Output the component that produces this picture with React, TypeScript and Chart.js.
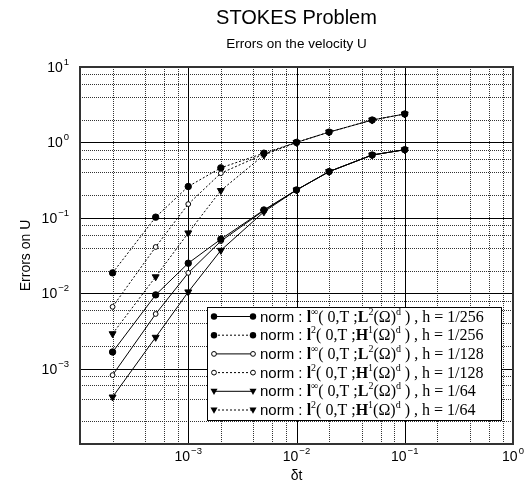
import React, { useEffect, useRef } from 'react';
import { Chart, registerables } from 'chart.js';

Chart.register(...registerables);

// ---- data ----
const dt = [2e-4, 5e-4, 1e-3, 2e-3, 5e-3, 1e-2, 2e-2, 5e-2, 1e-1];
const linfL2_h256 = [1.66e-3, 9.5e-3, 0.025, 0.052, 0.127, 0.234, 0.41, 0.68, 0.8];
const l2H1_h256 = [0.0186, 0.102, 0.26, 0.46, 0.72, 1.0, 1.37, 1.98, 2.38];
const linfL2_h128 = [8.2e-4, 5.3e-3, 0.0186, 0.049, 0.125, 0.234, 0.41, 0.68, 0.8];
const l2H1_h128 = [6.6e-3, 0.041, 0.152, 0.39, 0.7, 1.0, 1.37, 1.98, 2.38];
const linfL2_h64 = [4.2e-4, 2.6e-3, 0.0104, 0.037, 0.12, 0.234, 0.41, 0.68, 0.8];
const l2H1_h64 = [2.9e-3, 0.0165, 0.063, 0.23, 0.68, 1.0, 1.37, 1.98, 2.38];

const timeNorm = ['\u221E', '2', '\u221E', '2', '\u221E', '2'];
const spaceNorm = ['L', 'H', 'L', 'H', 'L', 'H'];
const spaceExp = ['2', '1', '2', '1', '2', '1'];
const meshSize = ['1/256', '1/256', '1/128', '1/128', '1/64', '1/64'];

const xDecades = [-4, -3, -2, -1, 0];
const yDecades = [-4, -3, -2, -1, 0, 1];
const xLabelExps = [-3, -2, -1, 0];
const yLabelExps = [-3, -2, -1, 0, 1];
const minorMultiples = [2, 4, 6, 8];

const titleText = 'STOKES Problem';
const subtitleText = 'Errors on the velocity U';
const xTitle = '\u03B4t';
const yTitle = 'Errors on U';

const seriesValues = [linfL2_h256, l2H1_h256, linfL2_h128, l2H1_h128, linfL2_h64, l2H1_h64];
const seriesDotted = [false, true, false, true, false, true];
const seriesMarker = ['filled', 'filled', 'open', 'open', 'tri', 'tri'];

const SANS = '"Liberation Sans", Arial, sans-serif';
const SERIF = '"Liberation Serif", "Times New Roman", serif';

function expText(e: number) {
  return e < 0 ? '\u2212' + Math.abs(e) : String(e);
}

function drawMarker(ctx: CanvasRenderingContext2D, kind: string, x: number, y: number) {
  ctx.save();
  ctx.setLineDash([]);
  ctx.lineWidth = 1;
  ctx.strokeStyle = '#000';
  if (kind === 'filled') {
    ctx.fillStyle = '#000';
    ctx.beginPath();
    ctx.arc(x, y, 3.2, 0, Math.PI * 2);
    ctx.fill();
  } else if (kind === 'open') {
    ctx.fillStyle = '#fff';
    ctx.beginPath();
    ctx.arc(x, y, 2.4, 0, Math.PI * 2);
    ctx.fill();
    ctx.stroke();
  } else {
    ctx.fillStyle = '#000';
    ctx.beginPath();
    ctx.moveTo(x - 3.5, y - 2.5);
    ctx.lineTo(x + 3.5, y - 2.5);
    ctx.lineTo(x, y + 3.8);
    ctx.closePath();
    ctx.fill();
  }
  ctx.restore();
}

const decorPlugin = {
  id: 'decor',
  beforeDatasetsDraw(chart: any) {
    const ctx: CanvasRenderingContext2D = chart.ctx;
    const { left, right, top, bottom } = chart.chartArea;
    const xs = chart.scales.x;
    const ys = chart.scales.y;
    ctx.save();
    ctx.lineWidth = 1;
    // minor dotted
    ctx.strokeStyle = '#333';
    ctx.setLineDash([1, 1]);
    for (const d of xDecades) {
      for (const m of minorMultiples) {
        const v = m * Math.pow(10, d);
        if (v >= 1) continue;
        const px = Math.round(xs.getPixelForValue(v)) + 0.5;
        ctx.beginPath();
        ctx.moveTo(px, top);
        ctx.lineTo(px, bottom);
        ctx.stroke();
      }
    }
    for (const d of yDecades) {
      for (const m of minorMultiples) {
        const v = m * Math.pow(10, d);
        if (v >= 10) continue;
        const py = Math.round(ys.getPixelForValue(v)) + 0.5;
        ctx.beginPath();
        ctx.moveTo(left, py);
        ctx.lineTo(right, py);
        ctx.stroke();
      }
    }
    // major solid
    ctx.setLineDash([]);
    ctx.strokeStyle = '#000';
    for (const d of xDecades) {
      const px = Math.round(xs.getPixelForValue(Math.pow(10, d))) + 0.5;
      ctx.beginPath();
      ctx.moveTo(px, top);
      ctx.lineTo(px, bottom);
      ctx.stroke();
    }
    for (const d of yDecades) {
      const py = Math.round(ys.getPixelForValue(Math.pow(10, d))) + 0.5;
      ctx.beginPath();
      ctx.moveTo(left, py);
      ctx.lineTo(right, py);
      ctx.stroke();
    }
    ctx.restore();
  },
  afterDatasetsDraw(chart: any) {
    const ctx: CanvasRenderingContext2D = chart.ctx;
    const { left, right, top, bottom } = chart.chartArea;
    ctx.save();
    ctx.setLineDash([]);
    ctx.lineWidth = 2;
    ctx.strokeStyle = '#333';
    ctx.strokeRect(left, top, right - left, bottom - top);
    ctx.restore();
  },
  afterDraw(chart: any) {
    const ctx: CanvasRenderingContext2D = chart.ctx;
    const { left, right, top, bottom } = chart.chartArea;
    const xs = chart.scales.x;
    const ys = chart.scales.y;
    const cx = (left + right) / 2;
    ctx.save();
    ctx.fillStyle = '#000';
    ctx.textBaseline = 'alphabetic';
    // titles
    ctx.textAlign = 'center';
    ctx.font = `20px ${SANS}`;
    ctx.fillText(titleText, cx, 24);
    ctx.font = `13.5px ${SANS}`;
    ctx.fillText(subtitleText, cx, 48);
    ctx.font = `14px ${SANS}`;
    ctx.fillText(xTitle, cx, 480);
    ctx.save();
    ctx.translate(30, (top + bottom) / 2);
    ctx.rotate(-Math.PI / 2);
    ctx.fillText(yTitle, 0, 0);
    ctx.restore();

    // tick labels with superscripts
    const baseFont = `14px ${SANS}`;
    const supFont = `9.5px ${SANS}`;
    ctx.textAlign = 'left';
    for (const e of xLabelExps) {
      const px = xs.getPixelForValue(Math.pow(10, e));
      ctx.font = baseFont;
      const wb = ctx.measureText('10').width;
      ctx.font = supFont;
      const we = ctx.measureText(expText(e)).width;
      const x0 = px - (wb + we + 1) / 2;
      ctx.font = baseFont;
      ctx.fillText('10', x0, 461);
      ctx.font = supFont;
      ctx.fillText(expText(e), x0 + wb + 1, 454);
    }
    for (const e of yLabelExps) {
      const py = ys.getPixelForValue(Math.pow(10, e));
      ctx.font = baseFont;
      const wb = ctx.measureText('10').width;
      ctx.font = supFont;
      const we = ctx.measureText(expText(e)).width;
      const xr = 69;
      const x0 = xr - we - 1 - wb;
      ctx.font = baseFont;
      ctx.fillText('10', x0, py + 5);
      ctx.font = supFont;
      ctx.fillText(expText(e), x0 + wb + 1, py - 2);
    }

    // legend box
    const bx = 207, by = 307, bw = 294, bh = 113;
    ctx.fillStyle = '#fff';
    ctx.fillRect(bx, by, bw, bh);
    ctx.strokeStyle = '#000';
    ctx.lineWidth = 1;
    ctx.strokeRect(bx + 0.5, by + 0.5, bw, bh);
    const rowH = 18.7;
    for (let i = 0; i < seriesValues.length; i++) {
      const ry = by + 9.5 + i * rowH;
      const ds = chart.data.datasets[i];
      ctx.save();
      ctx.strokeStyle = '#000';
      ctx.lineWidth = 1;
      ctx.setLineDash(ds.borderDash || []);
      ctx.beginPath();
      ctx.moveTo(214, ry);
      ctx.lineTo(253, ry);
      ctx.stroke();
      ctx.restore();
      drawMarker(ctx, seriesMarker[i], 214, ry);
      drawMarker(ctx, seriesMarker[i], 253, ry);
      const segs: { t: string; f: string; dy: number }[] = [
        { t: 'norm : ', f: `15px ${SANS}`, dy: 0 },
        { t: 'l', f: `bold 16px ${SERIF}`, dy: 0 },
        { t: timeNorm[i], f: `10px ${SERIF}`, dy: -7 },
        { t: '( 0,T ;', f: `16px ${SERIF}`, dy: 0 },
        { t: spaceNorm[i], f: `bold 16px ${SERIF}`, dy: 0 },
        { t: spaceExp[i], f: `10px ${SERIF}`, dy: -7 },
        { t: '(\u03A9)', f: `16px ${SERIF}`, dy: 0 },
        { t: 'd', f: `10px ${SERIF}`, dy: -7 },
        { t: ' ) , h = ' + meshSize[i], f: `16px ${SERIF}`, dy: 0 },
      ];
      let tx = 260;
      ctx.fillStyle = '#000';
      ctx.textAlign = 'left';
      for (const s of segs) {
        ctx.font = s.f;
        ctx.fillText(s.t, tx, ry + 5 + s.dy);
        tx += ctx.measureText(s.t).width;
      }
    }
    ctx.restore();
  },
};

export default function App() {
  const ref = useRef<HTMLCanvasElement>(null);
  useEffect(() => {
    const datasets = seriesValues.map((vals, i) => {
      const m = seriesMarker[i];
      return {
        label: `series ${i + 1}`,
        data: vals.map((v, j) => ({ x: dt[j], y: v })),
        borderColor: '#000',
        borderWidth: 1,
        borderDash: seriesDotted[i] ? [2, 2] : [],
        pointStyle: m === 'tri' ? 'triangle' : 'circle',
        pointRotation: m === 'tri' ? 180 : 0,
        pointRadius: m === 'filled' ? 3.2 : m === 'open' ? 2.4 : 4,
        pointBackgroundColor: m === 'open' ? '#fff' : '#000',
        pointBorderColor: '#000',
        pointBorderWidth: 1,
        fill: false,
        tension: 0,
      };
    });
    const chart = new Chart(ref.current as HTMLCanvasElement, {
      type: 'line',
      data: { datasets: datasets as any },
      options: {
        responsive: false,
        animation: false,
        layout: { padding: { top: 67, right: 13, left: 0, bottom: 0 } },
        plugins: { legend: { display: false }, tooltip: { enabled: false }, title: { display: false } },
        scales: {
          x: {
            type: 'logarithmic',
            min: 1e-4,
            max: 1,
            ticks: { display: false },
            grid: { display: false, drawTicks: false },
            border: { display: false },
            afterFit: (s: any) => {
              s.height = 45;
            },
          },
          y: {
            type: 'logarithmic',
            min: 1e-4,
            max: 10,
            ticks: { display: false },
            grid: { display: false, drawTicks: false },
            border: { display: false },
            afterFit: (s: any) => {
              s.width = 80;
            },
          },
        },
      } as any,
      plugins: [decorPlugin],
    });
    return () => chart.destroy();
  }, []);
  return (
    <div style={{ position: 'fixed', left: 0, top: 0, width: 526, height: 489, background: '#fff' }}>
      <canvas ref={ref} width={526} height={489} style={{ display: 'block', width: 526, height: 489 }} />
    </div>
  );
}
